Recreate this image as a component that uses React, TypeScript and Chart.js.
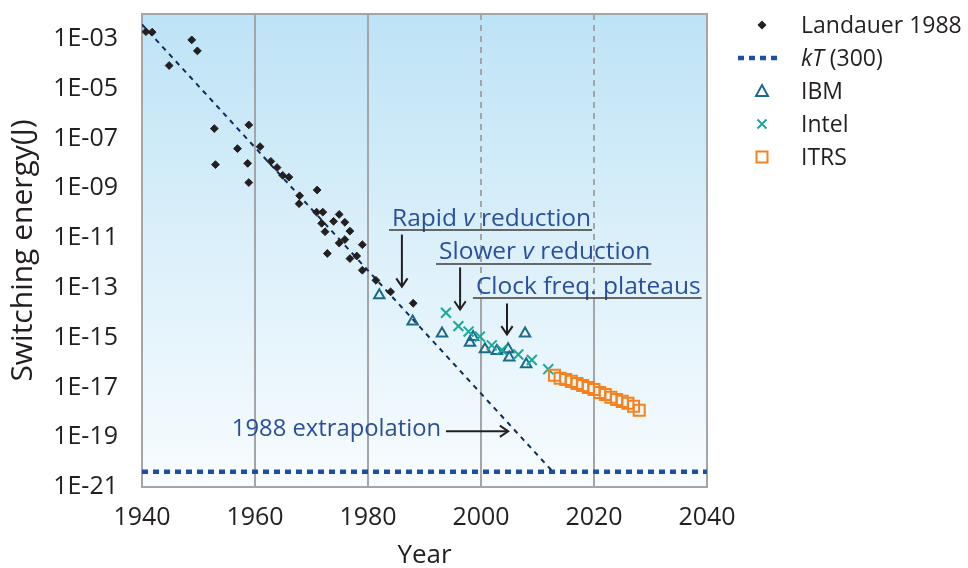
import React, { useEffect, useRef } from 'react';
import { Chart, registerables } from 'chart.js';

Chart.register(...registerables);

const FONT = '"Open Sans", "Noto Sans", sans-serif';
const TEXT = '#231f20';
const BLUE_TEXT = '#2a4f9f';

const xTicks = [1940, 1960, 1980, 2000, 2020, 2040];
const yTicks = [1e-21, 1e-19, 1e-17, 1e-15, 1e-13, 1e-11, 1e-9, 1e-7, 1e-5, 1e-3];
const yTickLabels = ['1E-21', '1E-19', '1E-17', '1E-15', '1E-13', '1E-11', '1E-09', '1E-07', '1E-05', '1E-03'];

const landauerYears = [1940.7, 1941.8, 1944.8, 1948.8, 1949.8, 1952.8, 1953.0, 1956.9, 1958.9, 1958.7, 1958.9, 1960.9, 1962.8, 1963.9, 1964.9, 1966.0, 1967.9, 1967.8, 1971.0, 1970.9, 1972.0, 1974.9, 1973.9, 1971.8, 1975.9, 1972.4, 1976.8, 1975.9, 1974.9, 1979.0, 1972.8, 1978.0, 1976.8, 1979.0, 1981.4, 1984.0, 1988.0];
const landauerEnergy = [1.95e-3, 1.86e-3, 8.5e-5, 9.1e-4, 3.3e-4, 2.5e-7, 8.9e-9, 3.9e-8, 3.5e-7, 1.0e-8, 1.7e-9, 4.7e-8, 1.2e-8, 6.8e-9, 3.3e-9, 2.8e-9, 5.0e-10, 2.4e-10, 8.5e-10, 1.1e-10, 1.1e-10, 8.9e-11, 4.7e-11, 3.9e-11, 4.3e-11, 1.8e-11, 1.9e-11, 8.7e-12, 6.3e-12, 5.4e-12, 2.4e-12, 1.9e-12, 1.5e-12, 5.1e-13, 2.0e-13, 6.9e-14, 2.4e-14];

const kTYears = [1940, 2040];
const kTEnergy = [4.14e-21, 4.14e-21];

const trendYears = [1940, 2012.7];
const trendEnergy = [3.8e-3, 4.14e-21];

const ibmYears = [1982.0, 1987.9, 1993.1, 1998.05, 1998.6, 2000.7, 2002.8, 2004.8, 2005.0, 2007.8, 2008.0];
const ibmEnergy = [5.0e-14, 4.4e-15, 1.45e-15, 6.3e-16, 1.05e-15, 3.4e-16, 2.9e-16, 3.4e-16, 1.6e-16, 1.45e-15, 8.5e-17];

const intelYears = [1993.8, 1996.0, 1997.8, 1999.8, 2001.9, 2003.7, 2006.6, 2009.0, 2011.9];
const intelEnergy = [1.0e-14, 2.9e-15, 1.75e-15, 1.1e-15, 4.9e-16, 3.2e-16, 2.1e-16, 1.26e-16, 5.4e-17];

const itrsYears = [2013, 2014, 2015, 2016, 2017, 2018, 2019, 2020, 2021, 2022, 2023, 2024, 2025, 2026, 2027, 2028];
const itrsEnergy = [3.1e-17, 2.35e-17, 2.1e-17, 1.75e-17, 1.45e-17, 1.2e-17, 1.0e-17, 8.3e-18, 6.3e-18, 5.2e-18, 4.0e-18, 3.3e-18, 2.75e-18, 2.3e-18, 1.75e-18, 1.2e-18];

const gridYears = [1960, 1980, 2000, 2020];
const dashedGridYears = [2000, 2020];
const dashedGridEnd = 3.7e-14;

type Part = [string, boolean];
interface Note {
  parts: Part[];
  x: number;
  y: number;
  size: number;
  underline: boolean;
  arrow: { x1: number; y1: number; x2: number; y2: number };
}

const notes: Note[] = [
  { parts: [['Rapid ', false], ['v', true], [' reduction', false]], x: 1984.25, y: 3.16e-11, size: 24.5, underline: true, arrow: { x1: 1986.0, y1: 1.38e-11, x2: 1986.0, y2: 1.12e-13 } },
  { parts: [['Slower ', false], ['v', true], [' reduction', false]], x: 1992.57, y: 1.38e-12, size: 24.5, underline: true, arrow: { x1: 1996.3, y1: 6.6e-13, x2: 1996.3, y2: 1.35e-14 } },
  { parts: [['Clock freq. plateaus', false]], x: 1999.1, y: 5.9e-14, size: 24.5, underline: true, arrow: { x1: 2004.6, y1: 2.35e-14, x2: 2004.6, y2: 1.35e-15 } },
  { parts: [['1988 extrapolation', false]], x: 1955.9, y: 1.1e-19, size: 23.8, underline: false, arrow: { x1: 1993.8, y1: 1.74e-19, x2: 2004.8, y2: 1.74e-19 } },
];

const legendItems = ['Landauer 1988', 'kT', 'IBM', 'Intel', 'ITRS'];

const toXY = (xs: number[], ys: number[]) => xs.map((x, i) => ({ x, y: ys[i] }));

function drawArrow(ctx: CanvasRenderingContext2D, x1: number, y1: number, x2: number, y2: number) {
  ctx.save();
  ctx.strokeStyle = TEXT;
  ctx.lineWidth = 2;
  ctx.beginPath();
  ctx.moveTo(x1, y1);
  ctx.lineTo(x2, y2);
  ctx.stroke();
  const ang = Math.atan2(y2 - y1, x2 - x1);
  const len = 10;
  const spread = 0.6;
  ctx.beginPath();
  ctx.moveTo(x2 - len * Math.cos(ang - spread), y2 - len * Math.sin(ang - spread));
  ctx.lineTo(x2, y2);
  ctx.lineTo(x2 - len * Math.cos(ang + spread), y2 - len * Math.sin(ang + spread));
  ctx.stroke();
  ctx.restore();
}

const decorPlugin = {
  id: 'decor',
  beforeDatasetsDraw(chart: any) {
    const { ctx, chartArea: a, scales } = chart;
    const g = ctx.createLinearGradient(0, a.top, 0, a.bottom);
    g.addColorStop(0, '#bde3f6');
    g.addColorStop(0.5, '#dcf0fa');
    g.addColorStop(1, '#f8fcfe');
    ctx.save();
    ctx.fillStyle = g;
    ctx.fillRect(a.left, a.top, a.right - a.left, a.bottom - a.top);
    ctx.strokeStyle = '#a3a5a8';
    ctx.lineWidth = 2;
    const yCut = scales.y.getPixelForValue(dashedGridEnd);
    for (const yr of gridYears) {
      const px = Math.round(scales.x.getPixelForValue(yr));
      if (dashedGridYears.includes(yr)) {
        ctx.setLineDash([6, 5]);
        ctx.beginPath();
        ctx.moveTo(px, a.top);
        ctx.lineTo(px, yCut);
        ctx.stroke();
        ctx.setLineDash([]);
        ctx.beginPath();
        ctx.moveTo(px, yCut);
        ctx.lineTo(px, a.bottom);
        ctx.stroke();
      } else {
        ctx.beginPath();
        ctx.moveTo(px, a.top);
        ctx.lineTo(px, a.bottom);
        ctx.stroke();
      }
    }
    ctx.strokeRect(a.left, a.top, a.right - a.left, a.bottom - a.top);
    ctx.restore();
  },
  afterDatasetsDraw(chart: any) {
    const { ctx, scales } = chart;
    const sx = scales.x, sy = scales.y;
    ctx.save();
    ctx.textBaseline = 'alphabetic';
    ctx.textAlign = 'left';
    for (const n of notes) {
      let x = sx.getPixelForValue(n.x);
      const y = sy.getPixelForValue(n.y);
      const start = x;
      ctx.fillStyle = BLUE_TEXT;
      for (const [t, it] of n.parts) {
        ctx.font = `${it ? 'italic ' : ''}${n.size}px ${FONT}`;
        ctx.fillText(t, x, y);
        x += ctx.measureText(t).width;
      }
      if (n.underline) {
        ctx.strokeStyle = '#3b3b3b';
        ctx.lineWidth = 1.5;
        ctx.beginPath();
        ctx.moveTo(start - 3, y + 4.5);
        ctx.lineTo(x + 1, y + 4.5);
        ctx.stroke();
      }
      drawArrow(ctx, sx.getPixelForValue(n.arrow.x1), sy.getPixelForValue(n.arrow.y1), sx.getPixelForValue(n.arrow.x2), sy.getPixelForValue(n.arrow.y2));
    }
    ctx.restore();
  },
  afterDraw(chart: any) {
    const { ctx } = chart;
    const mx = 762, tx = 801, y0 = 25, step = 33;
    ctx.save();
    ctx.textBaseline = 'middle';
    ctx.fillStyle = TEXT;
    legendItems.forEach((lab, i) => {
      const y = y0 + i * step;
      ctx.fillStyle = TEXT;
      if (i === 1) {
        ctx.font = `italic 23px ${FONT}`;
        ctx.fillText(lab, tx, y + 1);
        const w = ctx.measureText(lab).width;
        ctx.font = `23px ${FONT}`;
        ctx.fillText(' (300)', tx + w, y + 1);
      } else {
        ctx.font = `23px ${FONT}`;
        ctx.fillText(lab, tx, y + 1);
      }
      ctx.lineWidth = 2;
      if (i === 0) {
        ctx.fillStyle = TEXT;
        ctx.beginPath();
        ctx.moveTo(mx - 4.5, y); ctx.lineTo(mx, y - 4.5); ctx.lineTo(mx + 4.5, y); ctx.lineTo(mx, y + 4.5);
        ctx.closePath(); ctx.fill();
      } else if (i === 1) {
        ctx.strokeStyle = '#1f4fa3';
        ctx.lineWidth = 4.5;
        ctx.setLineDash([6, 5]);
        ctx.beginPath(); ctx.moveTo(738, y); ctx.lineTo(778, y); ctx.stroke();
        ctx.setLineDash([]);
      } else if (i === 2) {
        ctx.strokeStyle = '#1b6a8c';
        ctx.beginPath();
        ctx.moveTo(mx, y - 6); ctx.lineTo(mx + 6, y + 5); ctx.lineTo(mx - 6, y + 5); ctx.closePath(); ctx.stroke();
      } else if (i === 3) {
        ctx.strokeStyle = '#1ba89b';
        ctx.beginPath();
        ctx.moveTo(mx - 4.5, y - 4.5); ctx.lineTo(mx + 4.5, y + 4.5);
        ctx.moveTo(mx + 4.5, y - 4.5); ctx.lineTo(mx - 4.5, y + 4.5);
        ctx.stroke();
      } else {
        ctx.strokeStyle = '#f5821f';
        ctx.strokeRect(mx - 5.5, y - 5.5, 11, 11);
      }
    });
    ctx.restore();
  },
};

export default function App() {
  const ref = useRef<HTMLCanvasElement | null>(null);
  useEffect(() => {
    document.body.style.margin = '0';
    const canvas = ref.current!;
    const chart = new Chart(canvas, {
      type: 'scatter',
      data: {
        datasets: [
          { label: 'kT (300)', data: toXY(kTYears, kTEnergy), showLine: true, borderColor: '#1f4fa3', borderWidth: 4.5, borderDash: [6, 5], pointRadius: 0, order: 5 },
          { label: '1988 extrapolation', data: toXY(trendYears, trendEnergy), showLine: true, borderColor: '#0d2b5e', borderWidth: 2, borderDash: [5, 5], pointRadius: 0, order: 4 },
          { label: 'Landauer 1988', data: toXY(landauerYears, landauerEnergy), pointStyle: 'rectRot', pointRadius: 3.9, backgroundColor: TEXT, borderColor: TEXT, borderWidth: 1, order: 3 },
          { label: 'IBM', data: toXY(ibmYears, ibmEnergy), pointStyle: 'triangle', pointRadius: 6, backgroundColor: 'rgba(0,0,0,0)', borderColor: '#1b6a8c', borderWidth: 2, order: 2 },
          { label: 'Intel', data: toXY(intelYears, intelEnergy), pointStyle: 'crossRot', pointRadius: 7, borderColor: '#1ba89b', borderWidth: 2, order: 1 },
          { label: 'ITRS', data: toXY(itrsYears, itrsEnergy), pointStyle: 'rect', pointRadius: 7.8, backgroundColor: 'rgba(0,0,0,0)', borderColor: '#f5821f', borderWidth: 2, order: 0 },
        ],
      },
      options: {
        animation: false,
        responsive: false,
        maintainAspectRatio: false,
        devicePixelRatio: 1,
        layout: { padding: { top: 14, right: 261, left: 0, bottom: 0 } },
        plugins: { legend: { display: false }, tooltip: { enabled: false } },
        scales: {
          x: {
            type: 'linear',
            min: 1940,
            max: 2040,
            bounds: 'data',
            afterBuildTicks: (s: any) => { s.ticks = xTicks.map((v) => ({ value: v })); },
            afterFit: (s: any) => { s.height = 81; s.paddingLeft = 0; s.paddingRight = 0; },
            grid: { display: false },
            border: { display: false },
            ticks: { autoSkip: false, maxRotation: 0, padding: 8, color: TEXT, font: { family: FONT, size: 25 }, callback: (v: any) => String(v) },
            title: { display: true, text: 'Year', color: TEXT, font: { family: FONT, size: 26 }, padding: { top: 0, bottom: -3 } },
          },
          y: {
            type: 'logarithmic',
            min: 1e-21,
            max: 1e-2,
            bounds: 'data',
            afterDataLimits: (s: any) => { s.min = 1e-21; s.max = 1e-2; },
            afterBuildTicks: (s: any) => { s.min = 1e-21; s.max = 1e-2; s.ticks = yTicks.map((v) => ({ value: v })); },
            afterFit: (s: any) => { s.width = 142; s.paddingTop = 0; s.paddingBottom = 0; },
            grid: { display: false },
            border: { display: false },
            ticks: {
              autoSkip: false, padding: 16, color: TEXT, font: { family: FONT, size: 25 },
              callback: (v: any) => {
                const idx = yTicks.findIndex((t) => Math.abs(Math.log10(t) - Math.log10(v)) < 1e-6);
                return idx >= 0 ? yTickLabels[idx] : '';
              },
            },
            title: { display: true, text: 'Switching energy(J)', color: TEXT, font: { family: FONT, size: 30 }, padding: { top: 5, bottom: 0 } },
          },
        },
      },
      plugins: [decorPlugin],
    });
    return () => chart.destroy();
  }, []);
  return <canvas ref={ref} width={968} height={568} style={{ display: 'block', width: 968, height: 568 }} />;
}
